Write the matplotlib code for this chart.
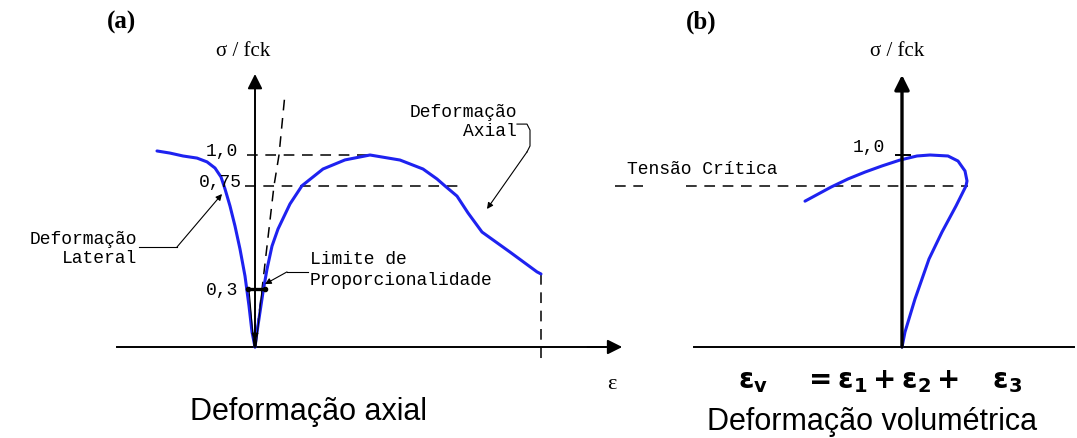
import numpy as np
import matplotlib
matplotlib.use("Agg")
import matplotlib.pyplot as plt

# ── dados (σ/fck vs deformação, unidades arbitrárias) ──
# (a) deformação lateral (lado negativo) e axial
lat_eps = np.array([-0.98, -0.85, -0.72, -0.58, -0.48, -0.40, -0.34, -0.30, -0.25,
                    -0.20, -0.15, -0.10, -0.06, -0.03, 0.0])
lat_sig = np.array([1.021, 1.010, 0.992, 0.975, 0.944, 0.894, 0.821, 0.736, 0.662,
                    0.575, 0.475, 0.358, 0.214, 0.078, 0.0])

ax_eps = np.array([0.0, 0.02, 0.05, 0.08, 0.12, 0.17, 0.23, 0.35, 0.47, 0.68, 0.90,
                   1.15, 1.45, 1.68, 1.82, 1.90, 2.02, 2.13, 2.27, 2.55, 2.82, 2.86])
ax_sig = np.array([0.0, 0.078, 0.182, 0.286, 0.388, 0.488, 0.562, 0.671, 0.75, 0.886,
                   0.96, 1.0, 0.959, 0.886, 0.805, 0.749, 0.705, 0.632, 0.549, 0.462,
                   0.376, 0.367])

# tangente (limite de proporcionalidade)
tan_eps = np.array([0.0, 0.07, 0.19, 0.24, 0.30])
tan_sig = np.array([0.0, 0.30, 0.75, 1.0, 1.32])

# (b) deformação volumétrica
vol_eps = np.array([-0.97, -0.71, -0.54, -0.37, -0.20, -0.02, 0.15, 0.28, 0.46, 0.56,
                    0.63, 0.65, 0.64, 0.54, 0.40, 0.27, 0.13, 0.03, 0.0])
vol_sig = np.array([0.683, 0.744, 0.805, 0.861, 0.911, 0.959, 0.992, 1.0, 0.992, 0.951,
                    0.870, 0.789, 0.749, 0.662, 0.549, 0.432, 0.25, 0.078, 0.0])

niveis_txt = ["1,0", "0,75", "0,3"]
sig_critica = 0.75
eps_ultima = ax_eps[-1]

# escala vertical esquemática (o desenho abre o trecho 0,3–1,0)
sig_pts = np.array([-2.0, 0.0, 0.3, 0.75, 1.0, 3.0])
vis_pts = np.array([-2.0, 0.0, 0.3, 0.84, 1.0, 3.0])
fwd = lambda y: np.interp(y, sig_pts, vis_pts)
inv = lambda y: np.interp(y, vis_pts, sig_pts)

W, H = 1077, 439
fig = plt.figure(figsize=(W / 100, H / 100), dpi=100)
fig.patch.set_facecolor("white")

def px(x, y):
    return x / W, 1 - y / H

def make_ax(x0px):
    ax = fig.add_axes([0, 0, 1, 1])
    ax.set_yscale("function", functions=(fwd, inv))
    ax.set_xlim((0 - x0px) / 100, (W - x0px) / 100)
    ax.set_ylim(inv((348 - H) / 192), inv(348 / 192))
    ax.axis("off")
    ax.patch.set_alpha(0)
    return ax

blue = "#1e22f0"
mono = "Liberation Mono"
serif = "Liberation Serif"
fs_lbl = 13
dash = dict(color="black", lw=1.1, ls=(0, (7, 5)))
thin = dict(color="black", lw=0.8)

# ───────── painel (a) ─────────
a = make_ax(255)
a.plot([-1.38, 3.5], [0, 0], color="black", lw=1.4)
a.annotate("", xy=(3.70, 0), xytext=(3.3, 0),
           arrowprops=dict(arrowstyle="-|>", mutation_scale=22, color="black", lw=1.4))
a.annotate("", xy=(0, 1.422), xytext=(0, 0),
           arrowprops=dict(arrowstyle="-|>", mutation_scale=22, color="black", lw=1.4,
                           shrinkA=0, shrinkB=0))

a.plot([-0.08, 1.20], [1.0, 1.0], **dash)
a.plot([-0.10, 2.10], [0.75, 0.75], **dash)
a.plot(tan_eps, tan_sig, **dash)
a.plot([eps_ultima, eps_ultima], [ax_sig[-1], -0.0625], **dash)

a.plot(lat_eps, lat_sig, color=blue, lw=2.2, solid_capstyle="round", solid_joinstyle="round")
a.plot(ax_eps, ax_sig, color=blue, lw=2.2, solid_capstyle="round", solid_joinstyle="round")

# marca do limite de proporcionalidade
a.plot([-0.06, -0.01], [0.3, 0.0], **thin)
a.plot([0.07, 0.01], [0.3, 0.0], **thin)
a.plot([-0.07, 0.10], [0.3, 0.3], color="black", lw=2.4)
a.plot([-0.07, 0.10], [0.3, 0.3], "o", color="black", ms=3)
a.annotate("", xy=(0.0, 0.02), xytext=(0.0, 0.13),
           arrowprops=dict(arrowstyle="-|>", mutation_scale=10, color="black", lw=1.0))

a.text(-0.17, 1.0, niveis_txt[0], ha="right", va="baseline", family=mono, fontsize=fs_lbl)
a.text(-0.13, 0.75, niveis_txt[1], ha="right", va="baseline", family=mono, fontsize=fs_lbl)
a.text(-0.17, 0.3, niveis_txt[2], ha="right", va="center", family=mono, fontsize=fs_lbl)

# setas de identificação
a.plot([-1.16, -0.78], [0.484, 0.484], **thin)
a.annotate("", xy=(-0.33, 0.714), xytext=(-0.78, 0.484),
           arrowprops=dict(arrowstyle="-|>", mutation_scale=9, shrinkA=0, shrinkB=0, **thin))
a.plot([0.53, 0.32], [0.376, 0.376], **thin)
a.annotate("", xy=(0.10, 0.323), xytext=(0.32, 0.376),
           arrowprops=dict(arrowstyle="-|>", mutation_scale=9, shrinkA=0, shrinkB=0, **thin))
a.plot([2.62, 2.72, 2.75, 2.75, 2.72], [1.161, 1.161, 1.13, 1.047, 1.016], **thin)
a.annotate("", xy=(2.32, 0.649), xytext=(2.72, 1.016),
           arrowprops=dict(arrowstyle="-|>", mutation_scale=9, shrinkA=0, shrinkB=0, **thin))

# ───────── painel (b) ─────────
b = make_ax(902)
b.plot([-2.08, 1.72], [0, 0], color="black", lw=1.4)
b.annotate("", xy=(0, 1.417), xytext=(0, 0),
           arrowprops=dict(arrowstyle="-|>", mutation_scale=22, color="black", lw=2.4,
                           shrinkA=0, shrinkB=0))
b.plot([-0.06, 0.08], [1.0, 1.0], color="black", lw=1.4)
b.plot([-2.87, -2.59], [sig_critica, sig_critica], **dash)
b.plot([-2.16, 0.66], [sig_critica, sig_critica], **dash)
b.plot(vol_eps, vol_sig, color=blue, lw=2.2, solid_capstyle="round", solid_joinstyle="round")
b.text(-0.17, 1.0, niveis_txt[0], ha="right", va="bottom", family=mono, fontsize=fs_lbl)

# ───────── textos ─────────
fig.text(*px(122, 22), "(a)", ha="center", va="center", family=serif, fontsize=18,
         fontweight="bold")
fig.text(*px(701, 22), "(b)", ha="center", va="center", family=serif, fontsize=18,
         fontweight="bold")
fig.text(*px(243, 52), "σ / fck", ha="center", va="center", family=serif, fontsize=15)
fig.text(*px(897, 52), "σ / fck", ha="center", va="center", family=serif, fontsize=15)
fig.text(*px(517, 122), "Deformação\nAxial", ha="right", va="center", family=mono,
         fontsize=fs_lbl, linespacing=1.2)
fig.text(*px(137, 249), "Deformação\nLateral", ha="right", va="center", family=mono,
         fontsize=fs_lbl, linespacing=1.2)
fig.text(*px(310, 270), "Limite de\nProporcionalidade", ha="left", va="center",
         family=mono, fontsize=fs_lbl, linespacing=1.3)
fig.text(*px(627, 170), "Tensão Crítica", ha="left", va="center", family=mono,
         fontsize=fs_lbl)
fig.text(*px(612, 385), "ε", ha="center", va="center", family=serif, fontsize=16)
fig.text(*px(309, 412), "Deformação axial", ha="center", va="center",
         family="Liberation Sans", fontsize=22)
fig.text(*px(880, 381),
         r"$\mathbf{\varepsilon}_{\mathbf{v}}\ \ \ \ \mathbf{=\varepsilon_1 + \varepsilon_2 +\ \ \ \varepsilon_3}$",
         ha="center", va="center", fontsize=20)
fig.text(*px(872, 422), "Deformação volumétrica", ha="center", va="center",
         family="Liberation Sans", fontsize=22)

fig.savefig("out.png", dpi=100, facecolor="white")
